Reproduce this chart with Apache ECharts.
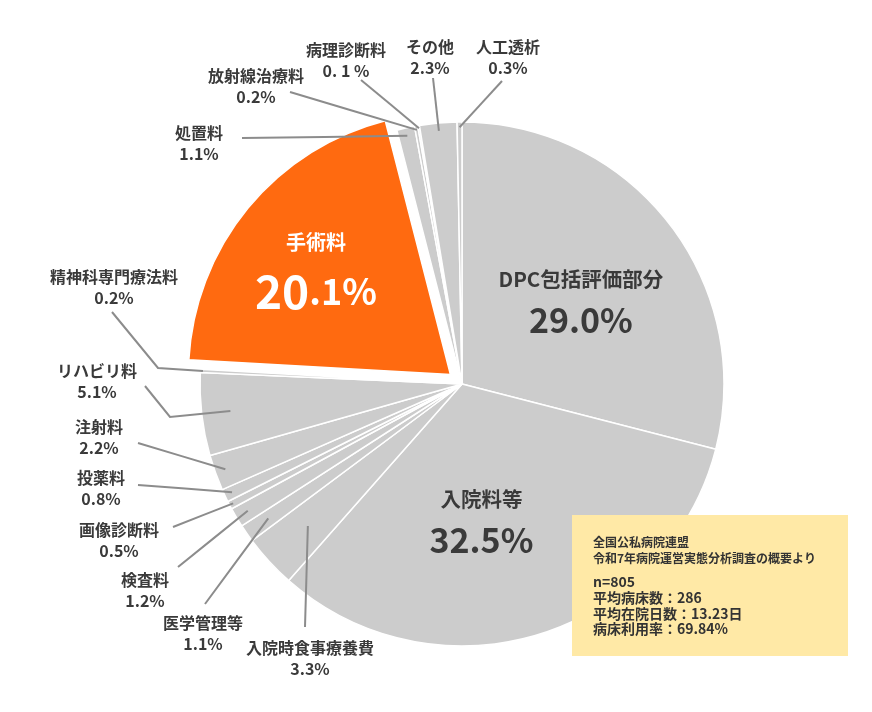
<!DOCTYPE html>
<html><head><meta charset="utf-8">
<script src="https://cdn.jsdelivr.net/npm/echarts@6/dist/echarts.min.js"></script>
<style>html,body{margin:0;padding:0;background:#fff}#c{width:872px;height:712px}</style>
</head><body><div id="c"></div>
<script>
// ---- data ----
const categories = ['DPC包括評価部分','入院料等','入院時食事療養費','医学管理等','検査料','画像診断料','投薬料','注射料','リハビリ料','精神科専門療法料','手術料','処置料','放射線治療料','病理診断料','その他','人工透析'];
const values = [29.0,32.5,3.3,1.1,1.2,0.5,0.8,2.2,5.1,0.2,20.1,1.1,0.2,0.1,2.3,0.3];
const valueTexts = ['29.0%','32.5%','3.3%','1.1%','1.2%','0.5%','0.8%','2.2%','5.1%','0.2%','20.1%','1.1%','0.2%','0. 1 %','2.3%','0.3%'];
const highlighted = '手術料';
const noteSource = ['全国公私病院連盟','令和7年病院運営実態分析調査の概要より'];
const noteStats = ['n=805','平均病床数：286','平均在院日数：13.23日','病床利用率：69.84%'];

// ---- layout (positions / styles only) ----
const CX = 462, CY = 384, R = 262;
const GRAY = '#cccccc', ORANGE = '#ff6a10', TEXT = '#3a3a3a', LINE = '#8c8c8c';
const insideShift = { 'DPC包括評価部分': [13, -2], '入院料等': [-20, 8], '手術料': [-31, -22] };
// label block centre, leader start, optional elbow, depth of leader end inside slice (fraction of R)
const outside = {
  '人工透析':      { c: [508, 57],  s: [502, 81],  d: 0.98 },
  'その他':        { c: [430, 57],  s: [433, 78],  d: 0.97 },
  '病理診断料':    { c: [346, 60],  s: [361, 80],  d: 0.99 },
  '放射線治療料':  { c: [256, 86],  s: [290, 92],  d: 0.985 },
  '処置料':        { c: [199, 143], s: [242, 138], d: 0.97 },
  '精神科専門療法料': { c: [114, 287], s: [112, 312], e: [158, 368], d: 0.99 },
  'リハビリ料':    { c: [97, 381],  s: [145, 386], e: [170, 417], d: 0.89 },
  '注射料':        { c: [99, 437],  s: [138, 443], d: 0.96 },
  '投薬料':        { c: [101, 488], s: [138, 485], d: 0.97 },
  '画像診断料':    { c: [119, 540], s: [173, 527], d: 0.985 },
  '検査料':        { c: [145, 590], s: [178, 567], d: 0.95 },
  '医学管理等':    { c: [203, 633], s: [205, 604], d: 0.9 },
  '入院時食事療養費': { c: [310, 658], s: [305, 627], d: 0.8 }
};

const total = values.reduce((a, b) => a + b, 0);
const midAngles = [];
let acc = 0;
values.forEach(v => { midAngles.push((acc + v / 2) / total * 2 * Math.PI); acc += v; });

const FONT = '"Noto Sans CJK JP", "Noto Sans", sans-serif';

function buildData(withLabels) {
  return categories.map((name, i) => {
    const isHi = name === highlighted;
    const color = withLabels ? 'rgba(0,0,0,0)' : (isHi ? ORANGE : GRAY);
    const item = {
      name, value: values[i],
      itemStyle: { color },
      select: { itemStyle: { color } },
      selected: isHi
    };
    if (!withLabels) return item;
    if (insideShift[name]) {
      const big = name === highlighted;
      const col = big ? '#ffffff' : TEXT;
      let valStr;
      if (big) {
        const parts = valueTexts[i].match(/^(\d+)(.*)$/);
        valStr = '{vb|' + parts[1] + '}{vs|' + parts[2] + '}';
      } else {
        valStr = '{v|' + valueTexts[i] + '}';
      }
      item.label = {
        position: 'inside',
        formatter: '{n|' + name + '}\n' + valStr,
        rich: {
          n: { fontSize: big ? 20 : 20.5, fontWeight: 'bold', color: col, fontFamily: FONT, lineHeight: big ? 48 : 40, align: 'center' },
          v: { fontSize: 34, fontWeight: 'bold', color: col, fontFamily: FONT, lineHeight: 42 },
          vb: { fontSize: 46, fontWeight: 'bold', color: col, fontFamily: FONT, lineHeight: 50 },
          vs: { fontSize: 36, fontWeight: 'bold', color: col, fontFamily: FONT, lineHeight: 50 }
        }
      };
      item.labelLine = { show: false };
    } else {
      item.label = { formatter: name + '\n' + valueTexts[i] };
    }
    return item;
  });
}

const common = {
  type: 'pie',
  center: [CX, CY],
  radius: R,
  startAngle: 90,
  clockwise: true,
  avoidLabelOverlap: false,
  selectedMode: 'single',
  selectedOffset: 15,
  emphasis: { disabled: true },
  silent: true
};

const chart = echarts.init(document.getElementById('c'), null, { renderer: 'canvas' });
chart.setOption({
  animation: false,
  backgroundColor: '#ffffff',
  series: [
    Object.assign({}, common, {
      z: 1,
      itemStyle: { borderColor: '#ffffff', borderWidth: 1.5 },
      label: { show: false },
      labelLine: { show: false },
      data: buildData(false)
    }),
    Object.assign({}, common, {
      z: 5,
      itemStyle: { borderWidth: 0 },
      label: {
        show: true,
        position: 'outside',
        color: TEXT,
        fontFamily: FONT,
        fontSize: 16,
        fontWeight: 'bold',
        lineHeight: 21,
        align: 'center'
      },
      labelLine: { show: true, showAbove: true, lineStyle: { color: LINE, width: 2 } },
      labelLayout: function (p) {
        const name = categories[p.dataIndex];
        if (insideShift[name]) {
          return { dx: insideShift[name][0], dy: insideShift[name][1] };
        }
        const o = outside[name];
        const a = midAngles[p.dataIndex];
        const end = [CX + Math.sin(a) * R * o.d, CY - Math.cos(a) * R * o.d];
        const mid = o.e || [(o.s[0] + end[0]) / 2, (o.s[1] + end[1]) / 2];
        return {
          x: o.c[0], y: o.c[1], align: 'center', verticalAlign: 'middle',
          labelLinePoints: [end, mid, o.s]
        };
      },
      data: buildData(true)
    })
  ],
  graphic: [
    { type: 'rect', z: 100, shape: { x: 572, y: 515, width: 276, height: 141 }, style: { fill: '#ffe9a6' } },
    { type: 'text', z: 101, x: 593, y: 535, style: { text: noteSource.join('\n'), fill: '#333', font: 'bold 12px ' + FONT, lineHeight: 15.5, verticalAlign: 'top' } },
    { type: 'text', z: 101, x: 593, y: 574, style: { text: noteStats.join('\n'), fill: '#333', font: 'bold 14px ' + FONT, lineHeight: 15.7, verticalAlign: 'top' } }
  ]
});
</script></body></html>
